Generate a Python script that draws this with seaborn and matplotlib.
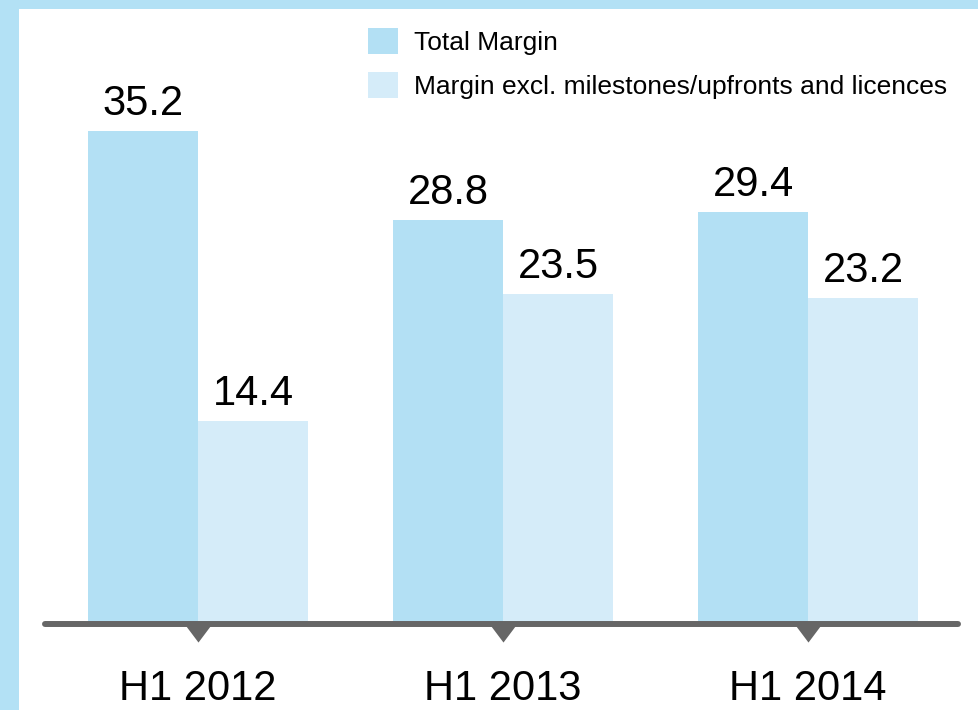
import matplotlib
matplotlib.use("Agg")
import matplotlib.pyplot as plt
import seaborn as sns
import pandas as pd
from matplotlib.patches import Rectangle

# Data
periods = ["H1 2012", "H1 2013", "H1 2014"]
total_margin = [35.2, 28.8, 29.4]
margin_excl = [14.4, 23.5, 23.2]
series_names = ["Total Margin", "Margin excl. milestones/upfronts and licences"]

df = pd.DataFrame({
    "period": periods * 2,
    "value": total_margin + margin_excl,
    "series": [series_names[0]] * 3 + [series_names[1]] * 3,
})

sns.set_theme(style="white")
plt.rcParams["font.family"] = ["Liberation Sans", "DejaVu Sans"]

W, H = 979, 710
fig = plt.figure(figsize=(W / 100, H / 100), dpi=100)
fig.patch.set_facecolor("white")

# Light blue frame strips on top and left
frame_color = "#b3e1f5"
fig.add_artist(Rectangle((0, 1 - 9 / H), 1, 9 / H, transform=fig.transFigure,
                         facecolor=frame_color, edgecolor="none", zorder=0))
fig.add_artist(Rectangle((0, 0), 19 / W, 1, transform=fig.transFigure,
                         facecolor=frame_color, edgecolor="none", zorder=0))

px_per_unit = 13.95
ax_left, ax_right = 45 / W, 958 / W
ax_bottom = (H - 622) / H
ax = fig.add_axes([ax_left, ax_bottom, ax_right - ax_left, 1 - ax_bottom])
ax.set_facecolor("none")

palette = ["#b3e0f4", "#d5ecf9"]
sns.barplot(data=df, x="period", y="value", hue="series", palette=palette,
            width=0.72, saturation=1, ax=ax, legend=True, zorder=2,
            linewidth=0, edgecolor="none")

ax.set_xlim(-0.502, 2.491)
ax.set_ylim(0, 622 / px_per_unit)

for c in ax.containers:
    ax.bar_label(c, fmt="%.1f", padding=5, fontsize=30, color="black")

# Baseline and pointer markers under each category
base_y = -2 / px_per_unit
ax.axhline(base_y, color="#666666", lw=4.3, zorder=4, clip_on=False)
tri = [(-1, 0), (1, 0), (0, -1.33)]
ax.plot(range(len(periods)), [base_y] * len(periods), linestyle="none",
        marker=tri, markersize=26, color="#666666", markeredgewidth=0,
        clip_on=False, zorder=4)

for s in ax.spines.values():
    s.set_visible(False)
ax.set_xlabel("")
ax.set_ylabel("")
ax.set_yticks([])
ax.tick_params(axis="x", length=0, pad=34, labelsize=30, labelcolor="black")

handles, labels = ax.get_legend_handles_labels()
leg = ax.legend(handles, labels, loc="upper left",
                bbox_to_anchor=(368 / W, 1 - 28 / H), bbox_transform=fig.transFigure,
                frameon=False, fontsize=19, handlelength=1.15, handleheight=1.15,
                handletextpad=0.6, labelspacing=0.65, borderpad=0, borderaxespad=0)
for t in leg.get_texts():
    t.set_color("black")

fig.savefig("out.png", dpi=100)
